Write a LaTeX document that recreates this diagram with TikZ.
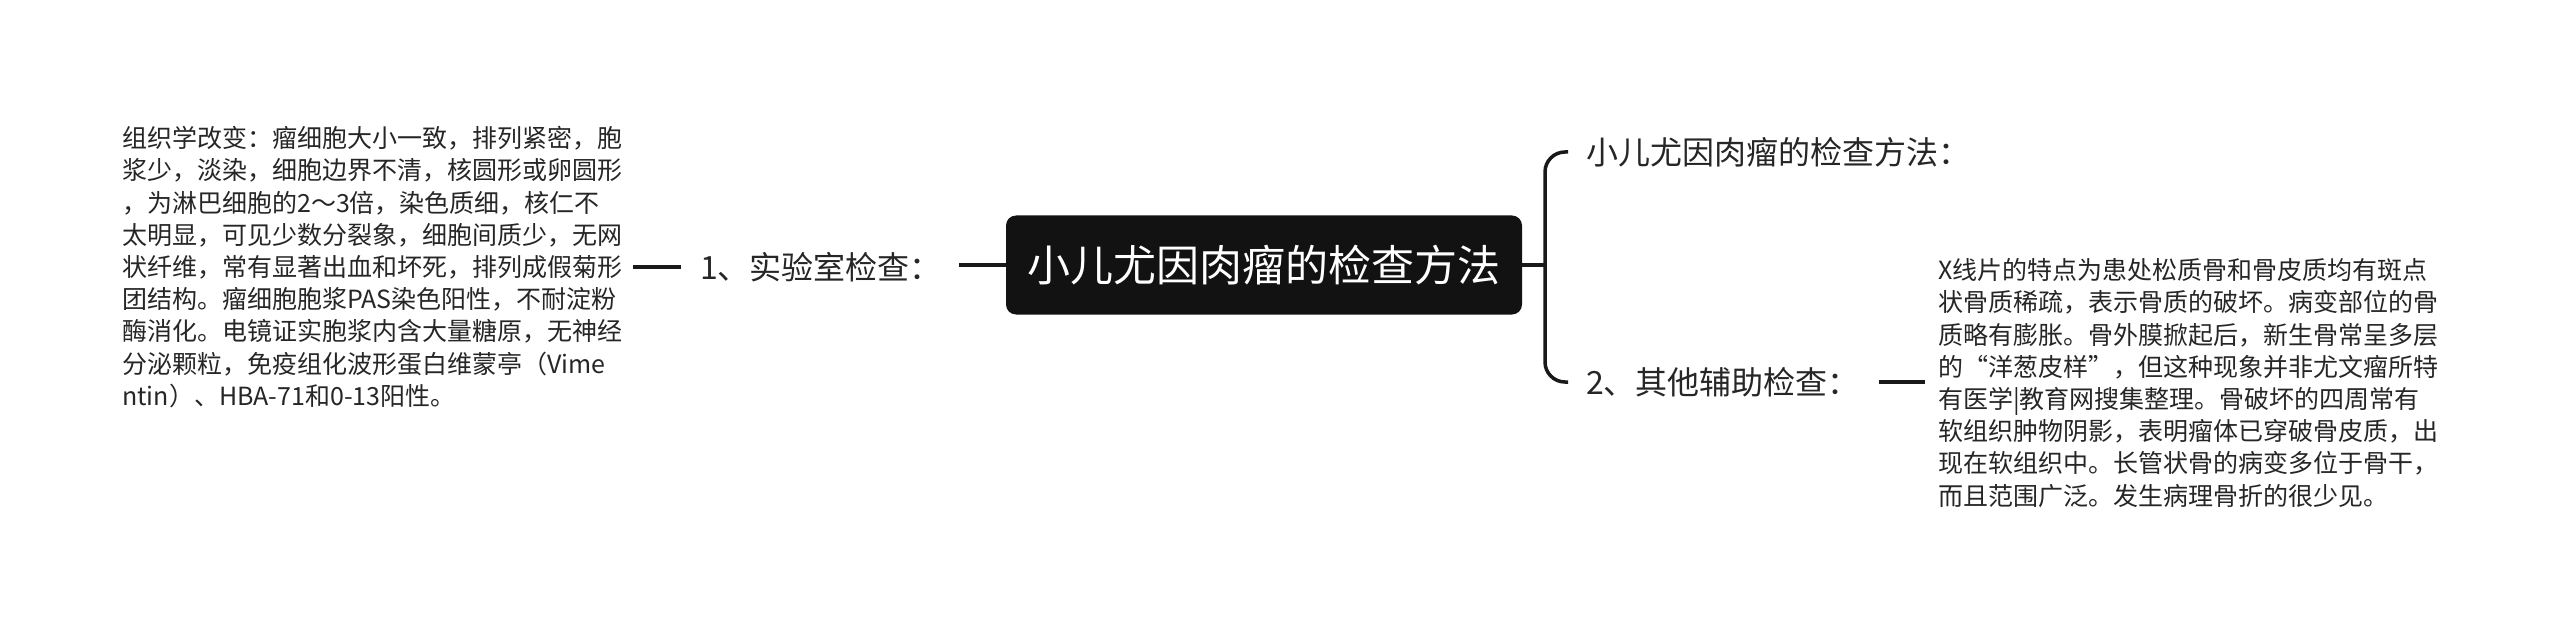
\documentclass[tikz,border=0pt]{standalone}
\usepackage{fontspec}
\setmainfont{Noto Sans CJK SC}
\begin{document}
\begin{tikzpicture}[x=1pt,y=-1pt,
  conn/.style={line width=3.5pt,draw=black!90},
  rootbox/.style={fill=black!93,rounded corners=10pt,text=white,minimum width=516pt,minimum height=99pt,inner sep=0pt,font=\fontsize{43}{52}\selectfont},
  lvl/.style={inner sep=0pt,text=black!85,font=\fontsize{32}{38}\selectfont,anchor=west},
  leaf/.style={inner sep=0pt,text=black!85,align=left,anchor=west,font=\fontsize{25}{32.2}\selectfont}]
\useasboundingbox[fill=white] (0,0) rectangle (2560,631);
\node[rootbox] (root) at (1264,265) {小儿尤因肉瘤的检查方法};
\node[lvl] (lab1) at (700,267) {1、实验室检查：};
\node[leaf] (left) at (122,267) {组织学改变：瘤细胞大小一致，排列紧密，胞\\浆少，淡染，细胞边界不清，核圆形或卵圆形\\，为淋巴细胞的2～3倍，染色质细，核仁不\\太明显，可见少数分裂象，细胞间质少，无网\\状纤维，常有显著出血和坏死，排列成假菊形\\团结构。瘤细胞胞浆PAS染色阳性，不耐淀粉\\酶消化。电镜证实胞浆内含大量糖原，无神经\\分泌颗粒，免疫组化波形蛋白维蒙亭（Vime\\ntin）、HBA-71和0-13阳性。};
\node[lvl] (top) at (1586,152) {小儿尤因肉瘤的检查方法：};
\node[lvl] (lab2) at (1586,382) {2、其他辅助检查：};
\node[leaf] (right) at (1938,383) {X线片的特点为患处松质骨和骨皮质均有斑点\\状骨质稀疏，表示骨质的破坏。病变部位的骨\\质略有膨胀。骨外膜掀起后，新生骨常呈多层\\的“洋葱皮样”，但这种现象并非尤文瘤所特\\有医学|教育网搜集整理。骨破坏的四周常有\\软组织肿物阴影，表明瘤体已穿破骨皮质，出\\现在软组织中。长管状骨的病变多位于骨干，\\而且范围广泛。发生病理骨折的很少见。};
% connectors
\coordinate (j) at (1545,265);
\draw[conn] (root.east) -- (j);
\draw[conn,rounded corners=20pt] ([xshift=-18pt]top.west) -| (j) |- ([xshift=-18pt]lab2.west);
\draw[conn] (root.west) -- ([xshift=-47pt]root.west);
\draw[conn] ([xshift=-19pt]lab1.west) -- ([xshift=11pt]left.east |- lab1.west);
\draw[conn] ([xshift=-13pt]right.west |- lab2.west) -- ([xshift=-59pt]right.west |- lab2.west);
\end{tikzpicture}
\end{document}
